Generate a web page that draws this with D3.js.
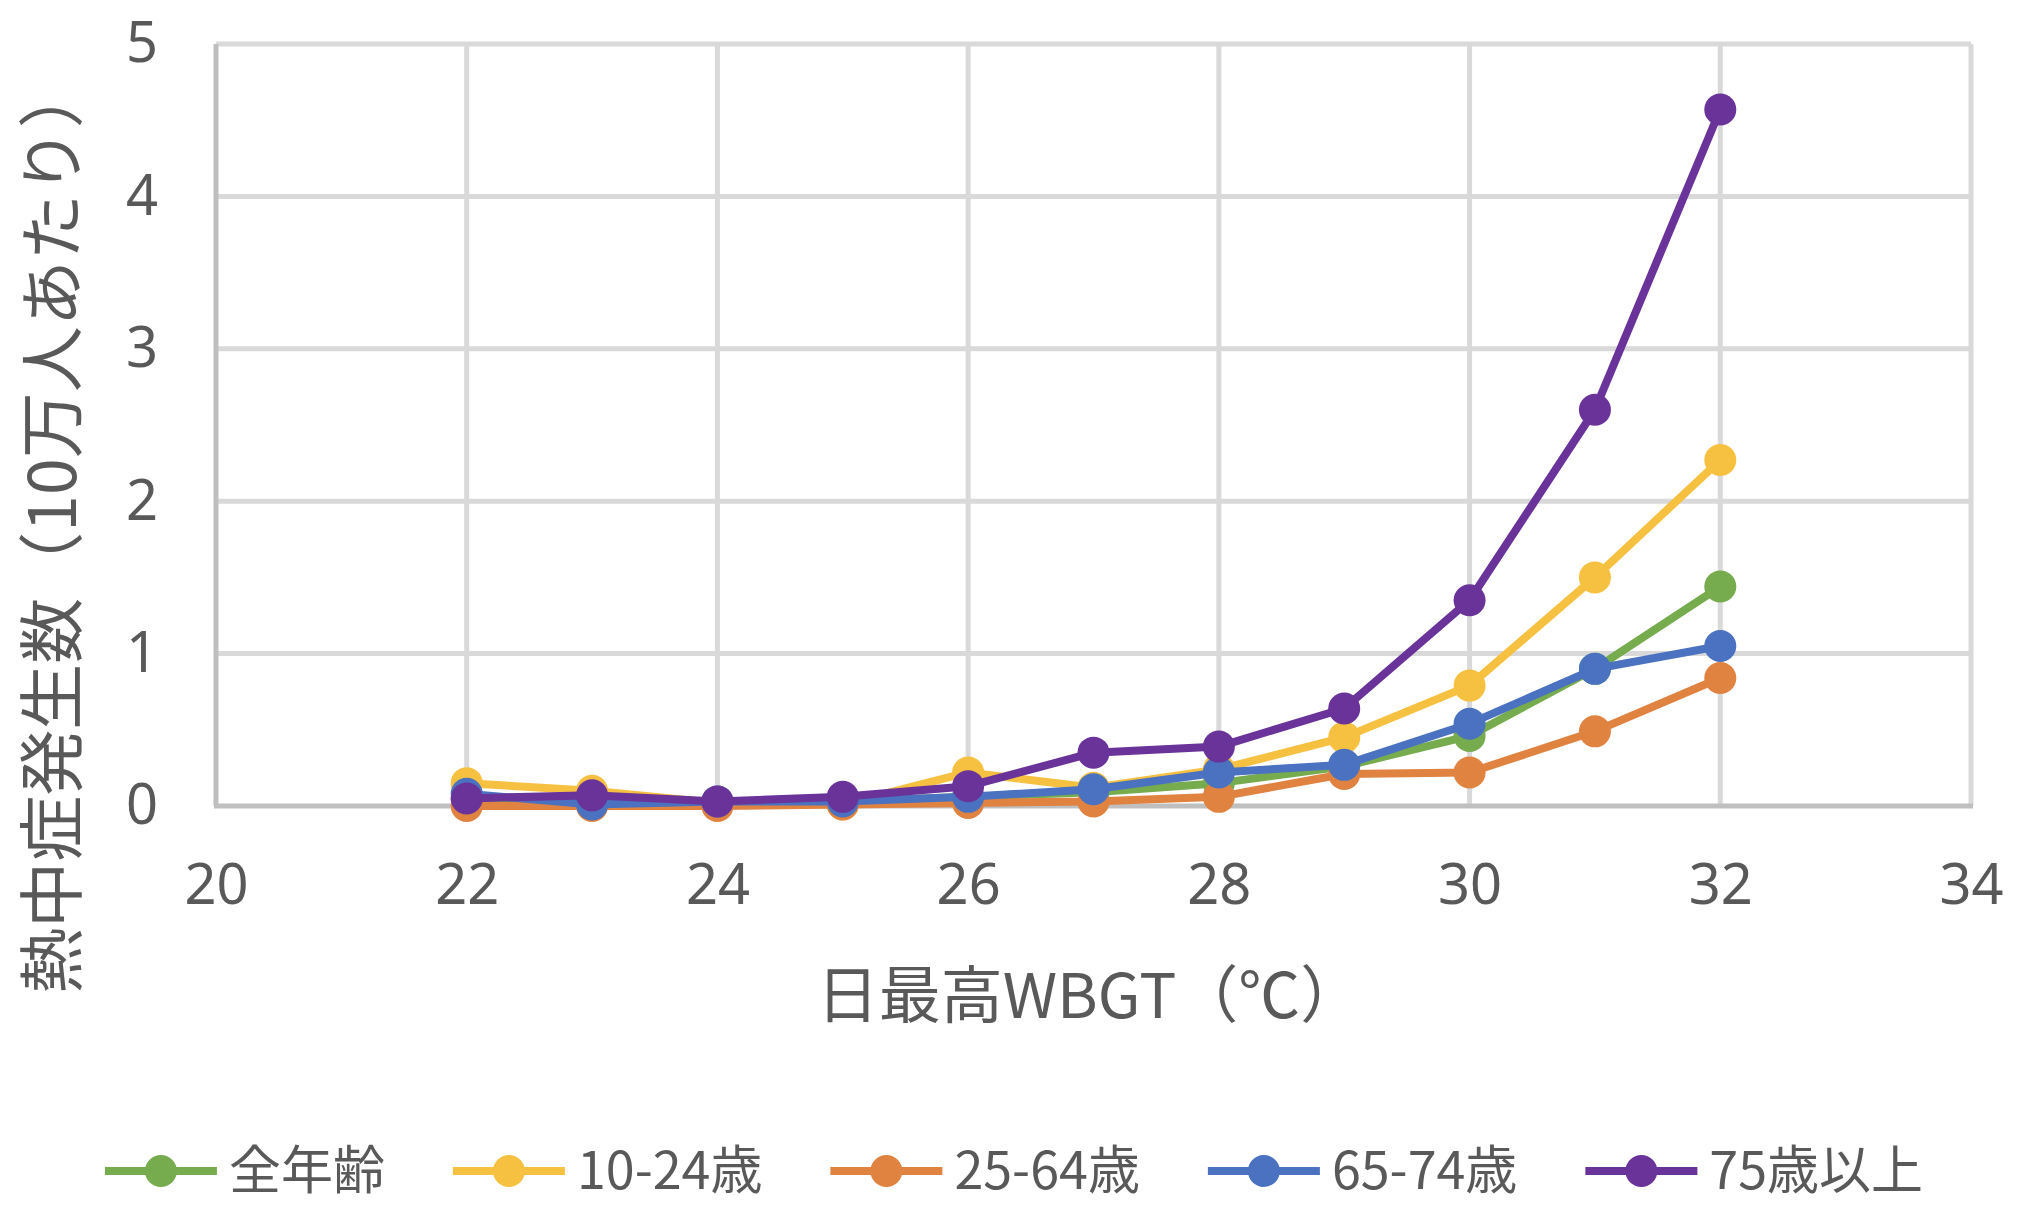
<!DOCTYPE html>
<html>
<head>
<meta charset="utf-8">
<script src="https://cdn.jsdelivr.net/npm/d3@7"></script>
<style>
  html, body { margin: 0; padding: 0; background: #fff; overflow: hidden; }
  svg { display: block; }
  text { font-family: "Noto Sans CJK JP", "Noto Sans", sans-serif; fill: #595959; }
</style>
</head>
<body>
<div class="chart"></div>
<script>
// WBGT values on the x axis
const wbgt = [22, 23, 24, 25, 26, 27, 28, 29, 30, 31, 32];

// heat illness cases per 100,000 people
const seriesNames = ['全年齢', '10-24歳', '25-64歳', '65-74歳', '75歳以上'];
const allAges   = [0.05, 0.04, 0.01, 0.03, 0.06, 0.09, 0.15, 0.26, 0.46, 0.90, 1.44];
const age10to24 = [0.15, 0.10, 0.02, 0.01, 0.22, 0.12, 0.24, 0.45, 0.79, 1.50, 2.27];
const age25to64 = [0.00, 0.00, 0.00, 0.01, 0.02, 0.03, 0.06, 0.21, 0.22, 0.49, 0.84];
const age65to74 = [0.08, 0.01, 0.03, 0.03, 0.06, 0.11, 0.22, 0.27, 0.54, 0.90, 1.05];
const age75plus = [0.05, 0.07, 0.03, 0.06, 0.13, 0.35, 0.39, 0.64, 1.35, 2.60, 4.57];

const xTicks = [20, 22, 24, 26, 28, 30, 32, 34];
const yTicks = [0, 1, 2, 3, 4, 5];
const colors = ['#76ab4e', '#f6c140', '#e08240', '#4a72c0', '#6a3399'];

const width = 2028;
const height = 1222;
const margin = { top: 44, right: 57, bottom: 416, left: 216 };
const innerWidth = width - margin.left - margin.right;
const innerHeight = height - margin.top - margin.bottom;

const svg = d3.select('.chart')
  .append('svg')
    .attr('width', width)
    .attr('height', height);

const chartG = svg.append('g')
  .attr('transform', `translate(${margin.left}, ${margin.top})`);

const x = d3.scaleLinear().domain([20, 34]).range([0, innerWidth]);
const y = d3.scaleLinear().domain([0, 5]).range([innerHeight, 0]);

// gridlines
chartG.append('g')
  .selectAll('line.h')
  .data(yTicks.filter(d => d > 0))
  .join('line')
    .attr('x1', 0).attr('x2', innerWidth)
    .attr('y1', d => y(d)).attr('y2', d => y(d))
    .attr('stroke', '#d9d9d9').attr('stroke-width', 5);

chartG.append('g')
  .selectAll('line.v')
  .data(xTicks.filter(d => d > 20))
  .join('line')
    .attr('x1', d => x(d)).attr('x2', d => x(d))
    .attr('y1', 0).attr('y2', innerHeight)
    .attr('stroke', '#d9d9d9').attr('stroke-width', 5);

// axis lines
chartG.append('line')
  .attr('x1', 0).attr('x2', 0).attr('y1', 0).attr('y2', innerHeight)
  .attr('stroke', '#bfbfbf').attr('stroke-width', 5);
chartG.append('line')
  .attr('x1', -2).attr('x2', innerWidth + 2).attr('y1', innerHeight).attr('y2', innerHeight)
  .attr('stroke', '#bfbfbf').attr('stroke-width', 5);

// tick labels via d3 axes
const xAxis = chartG.append('g')
  .attr('transform', `translate(0, ${innerHeight})`)
  .call(d3.axisBottom(x).tickValues(xTicks).tickFormat(d3.format('d')).tickSize(0).tickPadding(58));
const yAxis = chartG.append('g')
  .call(d3.axisLeft(y).tickValues(yTicks).tickFormat(d3.format('d')).tickSize(0).tickPadding(58));

[xAxis, yAxis].forEach(a => {
  a.select('.domain').remove();
  a.selectAll('text')
    .attr('font-size', 56)
    .attr('fill', '#595959')
    .style('font-family', '"Noto Sans", sans-serif');
});

// series
const series = [allAges, age10to24, age25to64, age65to74, age75plus];
const line = d3.line()
  .x((d, i) => x(wbgt[i]))
  .y(d => y(d));

series.forEach((vals, s) => {
  const g = chartG.append('g');
  g.append('path')
    .datum(vals)
    .attr('d', line)
    .attr('fill', 'none')
    .attr('stroke', colors[s])
    .attr('stroke-width', 8)
    .attr('stroke-linejoin', 'round');
  g.selectAll('circle')
    .data(vals)
    .join('circle')
      .attr('cx', (d, i) => x(wbgt[i]))
      .attr('cy', d => y(d))
      .attr('r', 16)
      .attr('fill', colors[s]);
});

// axis titles
svg.append('text')
  .attr('x', margin.left + innerWidth / 2 - 4)
  .attr('y', 1018)
  .attr('text-anchor', 'middle')
  .attr('font-size', 62)
  .text('日最高WBGT（℃）');

svg.append('text')
  .attr('transform', 'translate(76, 528) rotate(-90)')
  .attr('text-anchor', 'middle')
  .attr('font-size', 66)
  .text('熱中症発生数（10万人あたり）');

// legend
const legend = svg.append('g');
const gap = 68;
let cursor = 0;
seriesNames.forEach((name, s) => {
  const item = legend.append('g').attr('transform', `translate(${cursor}, 0)`);
  item.append('line')
    .attr('x1', 0).attr('x2', 112)
    .attr('stroke', colors[s]).attr('stroke-width', 8);
  item.append('circle')
    .attr('cx', 56).attr('r', 16)
    .attr('fill', colors[s]);
  const t = item.append('text')
    .attr('x', 124)
    .attr('dy', '0.35em')
    .attr('font-size', 52)
    .text(name);
  cursor += 124 + t.node().getComputedTextLength() + gap;
});
const legendWidth = cursor - gap;
legend.attr('transform', `translate(${(width - legendWidth) / 2}, 1171)`);
</script>
</body>
</html>
